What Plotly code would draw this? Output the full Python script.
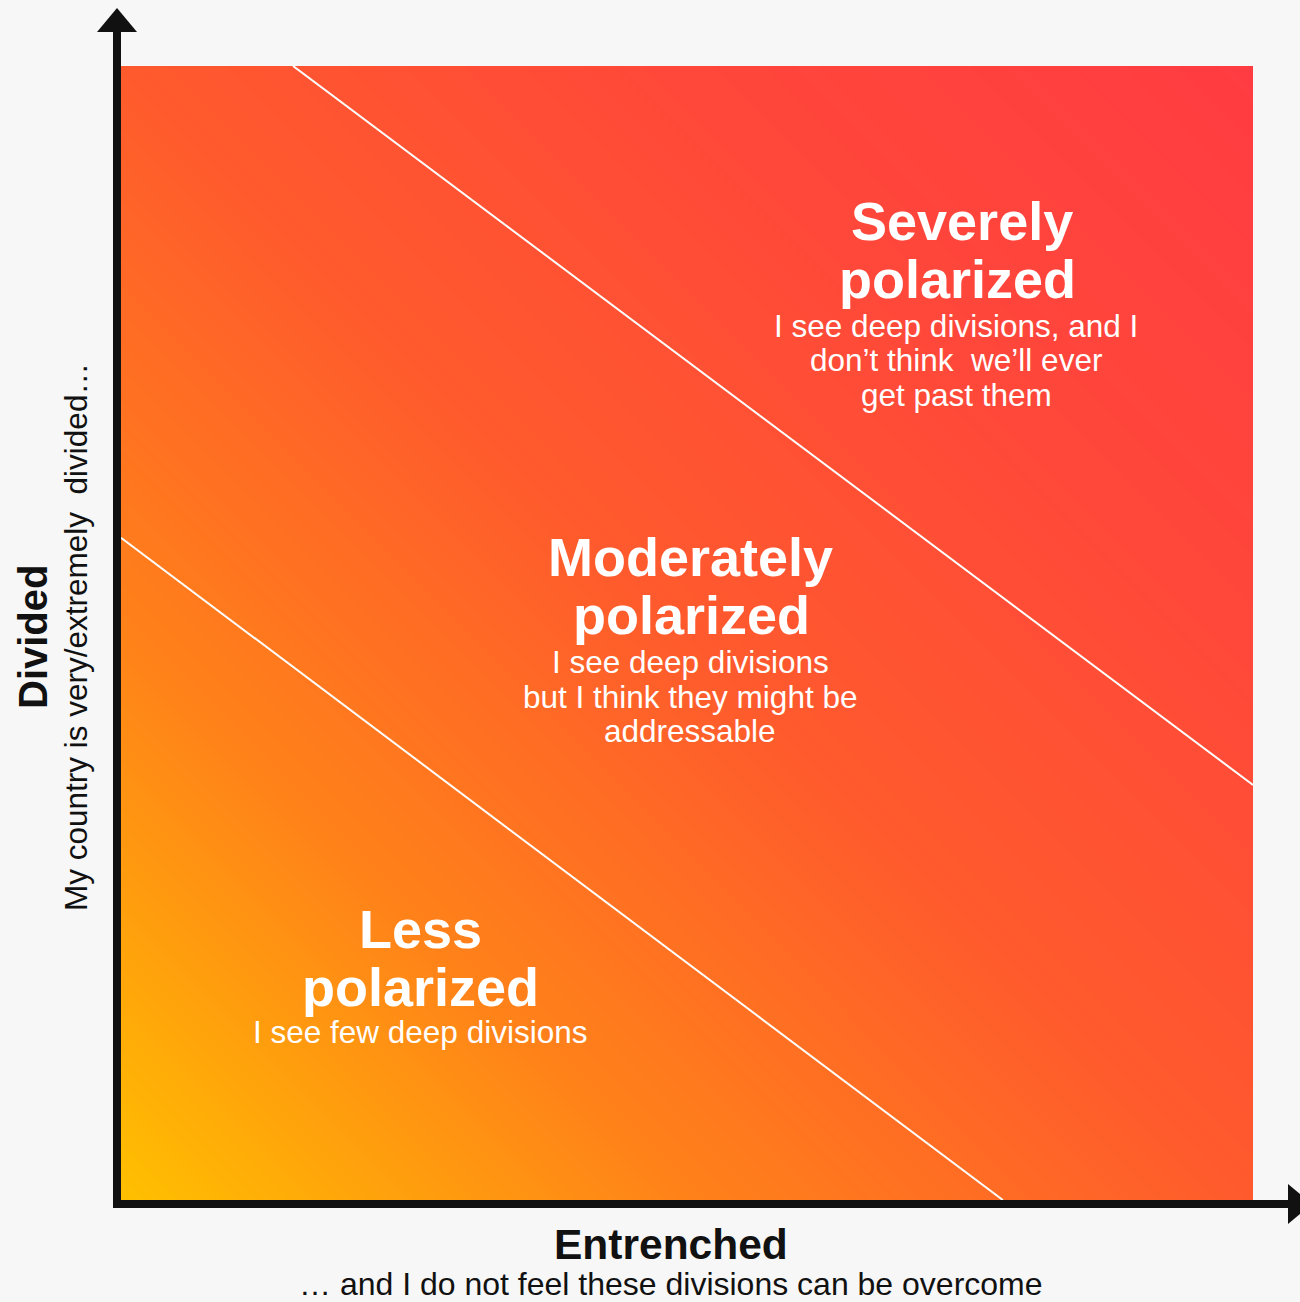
import plotly.graph_objects as go

# ---------------- data ----------------
# corner intensities of the background gradient (bottom-left -> top-right)
GRAD_X = [0.0, 1.0]
GRAD_Y = [0.0, 1.0]
GRAD_Z = [[0.0, 1.0],
          [1.0, 2.0]]

# boundary lines between the three zones (axis units 0..1)
UPPER_LINE_X = [0.152, 1.0]
UPPER_LINE_Y = [1.0, 0.366]
LOWER_LINE_X = [0.0, 0.779]
LOWER_LINE_Y = [0.584, 0.0]

ZONE_TITLES = [["Severely", "polarized"],
               ["Moderately", "polarized"],
               ["Less", "polarized"]]
ZONE_SUBTITLES = [["I see deep divisions, and I", "don\u2019t think  we\u2019ll ever", "get past them"],
                  ["I see deep divisions", "but I think they might be", "addressable"],
                  ["I see few deep divisions"]]

X_TITLE = "Entrenched"
X_SUBTITLE = "\u2026 and I do not feel these divisions can be overcome"
Y_TITLE = "Divided"
Y_SUBTITLE = "My country is very/extremely  divided\u2026"

# ---------------- layout helpers ----------------
W, H = 1300, 1302
L, R, T, B = 121, 47, 66, 102
PW, PH = W - L - R, H - T - B


def px(x):
    return (x - L) / PW


def py(y):
    return (H - B - y) / PH


FONT = "Liberation Sans, Arial, sans-serif"
AXCOL = "#111111"
BG = "#F7F7F7"

colorscale = [
    [0.0, "#FFC000"],
    [0.1, "#FFA60A"],
    [0.25, "#FF8219"],
    [0.5, "#FF5A2D"],
    [0.75, "#FF473A"],
    [1.0, "#FF3C42"],
]

fig = go.Figure()
fig.add_trace(go.Heatmap(x=GRAD_X, y=GRAD_Y, z=GRAD_Z, zsmooth="best",
                         colorscale=colorscale, showscale=False, hoverinfo="skip",
                         zmin=0, zmax=2))
for lx, ly in [(UPPER_LINE_X, UPPER_LINE_Y), (LOWER_LINE_X, LOWER_LINE_Y)]:
    fig.add_trace(go.Scatter(x=lx, y=ly, mode="lines",
                             line=dict(color="white", width=2),
                             hoverinfo="skip", showlegend=False))

shapes = []
# vertical axis
shapes.append(dict(type="rect", xref="paper", yref="paper",
                   x0=px(113), x1=px(121), y0=py(1208), y1=py(30),
                   fillcolor=AXCOL, line=dict(width=0), layer="above"))
shapes.append(dict(type="path", xref="paper", yref="paper",
                   path=f"M {px(97)},{py(32)} L {px(137)},{py(32)} L {px(117)},{py(8)} Z",
                   fillcolor=AXCOL, line=dict(width=0), layer="above"))
# horizontal axis
shapes.append(dict(type="rect", xref="paper", yref="paper",
                   x0=px(113), x1=px(1290), y0=py(1208), y1=py(1200),
                   fillcolor=AXCOL, line=dict(width=0), layer="above"))
shapes.append(dict(type="path", xref="paper", yref="paper",
                   path=f"M {px(1288)},{py(1184)} L {px(1288)},{py(1224)} L {px(1312)},{py(1204)} Z",
                   fillcolor=AXCOL, line=dict(width=0), layer="above"))

annotations = []
zone_title_cx = [[962, 957], [690, 691], [420, 420]]
zone_sub_cx = [956, 690, 420]
zone_title_y = [[221, 279], [557, 615], [929, 987]]
zone_sub_y = [[326, 360, 395], [662, 697, 731], [1032]]
for i in range(3):
    for t, xx, yy in zip(ZONE_TITLES[i], zone_title_cx[i], zone_title_y[i]):
        annotations.append(dict(text=t, x=px(xx), y=py(yy), xref="paper", yref="paper",
                                xanchor="center", yanchor="middle", showarrow=False,
                                font=dict(family=FONT, size=54, color="white", weight=700)))
    for t, yy in zip(ZONE_SUBTITLES[i], zone_sub_y[i]):
        annotations.append(dict(text=t, x=px(zone_sub_cx[i]), y=py(yy), xref="paper", yref="paper",
                                xanchor="center", yanchor="middle", showarrow=False,
                                font=dict(family=FONT, size=31.5, color="white")))

annotations.append(dict(text=X_TITLE, x=px(671), y=py(1244), xref="paper", yref="paper",
                        xanchor="center", yanchor="middle", showarrow=False,
                        font=dict(family=FONT, size=42.5, color=AXCOL, weight=700)))
annotations.append(dict(text=X_SUBTITLE, x=px(671), y=py(1284), xref="paper", yref="paper",
                        xanchor="center", yanchor="middle", showarrow=False,
                        font=dict(family=FONT, size=32, color=AXCOL)))
annotations.append(dict(text=Y_TITLE, x=px(33), y=py(637), xref="paper", yref="paper",
                        xanchor="center", yanchor="middle", showarrow=False, textangle=-90,
                        font=dict(family=FONT, size=40, color=AXCOL, weight=700)))
annotations.append(dict(text=Y_SUBTITLE, x=px(76), y=py(637), xref="paper", yref="paper",
                        xanchor="center", yanchor="middle", showarrow=False, textangle=-90,
                        font=dict(family=FONT, size=31.5, color=AXCOL)))

axis_common = dict(range=[0, 1], showgrid=False, zeroline=False, showticklabels=False,
                   showline=False, ticks="", fixedrange=True)
fig.update_layout(
    width=W, height=H,
    margin=dict(l=L, r=R, t=T, b=B, pad=0),
    paper_bgcolor=BG, plot_bgcolor=BG,
    xaxis=axis_common, yaxis=axis_common,
    shapes=shapes, annotations=annotations,
    showlegend=False,
)

fig.write_html(
    "out.html",
    config={"displayModeBar": False},
    post_script="document.body.style.margin='0';document.body.style.background='" + BG + "';"
                "document.documentElement.style.overflow='hidden';",
)
